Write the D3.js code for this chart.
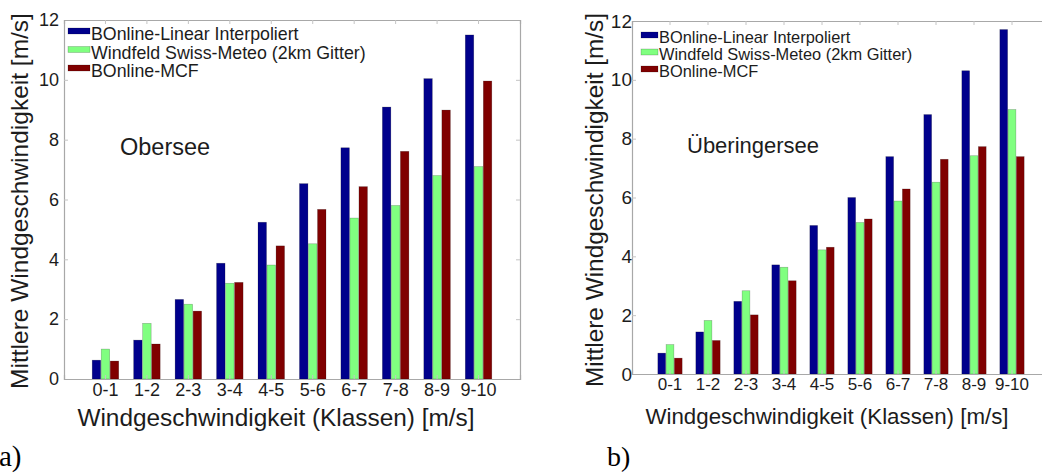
<!DOCTYPE html>
<html>
<head>
<meta charset="utf-8">
<script src="https://cdn.jsdelivr.net/npm/d3@7/dist/d3.min.js"></script>
<style>
  body { margin: 0; background: #fff; }
  svg { display: block; }
  text { font-family: "Liberation Sans", Arial, sans-serif; fill: #1c1c1c; }
  text.tag { font-family: "Liberation Serif", "Times New Roman", serif; fill: #000; }
</style>
</head>
<body>
<svg id="chart" width="1042" height="474"></svg>
<script>
// Wind speed classes [m/s]
const categories = ["0-1", "1-2", "2-3", "3-4", "4-5", "5-6", "6-7", "7-8", "8-9", "9-10"];
const seriesNames = ["BOnline-Linear Interpoliert", "Windfeld Swiss-Meteo (2km Gitter)", "BOnline-MCF"];
const seriesColors = ["#00008c", "#80ff80", "#800000"];
const yTicks = [0, 2, 4, 6, 8, 10, 12];

// Obersee: mean wind speed per class [m/s]
const oberseeLinear = [0.63, 1.30, 2.66, 3.87, 5.24, 6.53, 7.73, 9.09, 10.04, 11.50];
const oberseeSwiss  = [1.00, 1.86, 2.50, 3.20, 3.81, 4.52, 5.38, 5.80, 6.80, 7.10];
const oberseeMcf    = [0.60, 1.17, 2.27, 3.23, 4.45, 5.67, 6.43, 7.61, 8.99, 9.96];

// Überingersee: mean wind speed per class [m/s]
const ueberLinear = [0.71, 1.43, 2.47, 3.71, 5.05, 6.00, 7.39, 8.82, 10.31, 11.71];
const ueberSwiss  = [1.00, 1.82, 2.83, 3.63, 4.22, 5.15, 5.88, 6.52, 7.42, 8.99];
const ueberMcf    = [0.54, 1.14, 2.01, 3.17, 4.31, 5.27, 6.29, 7.30, 7.73, 7.39];

const yLabel = "Mittlere Windgeschwindigkeit [m/s]";
const xLabel = "Windgeschwindigkeit (Klassen) [m/s]";

const svg = d3.select("#chart");
svg.append("rect").attr("width", 1042).attr("height", 474).attr("fill", "#fff");

function drawPanel(series, lay) {
  const g = svg.append("g");
  const x = d3.scaleBand().domain(categories)
    .range([lay.left, lay.right]).paddingInner(0).paddingOuter(0.5);
  const step = x.step();
  const xs = d3.scaleBand().domain(seriesNames)
    .range([-0.32 * step, 0.32 * step]).paddingInner(0.06);
  const y = d3.scaleLinear().domain([0, 12]).range([lay.bottom, lay.top]);

  // bars
  series.forEach((vals, si) => {
    g.append("g").selectAll("rect").data(vals).join("rect")
      .attr("x", (d, i) => x(categories[i]) + x.bandwidth() / 2 + xs(seriesNames[si]))
      .attr("width", xs.bandwidth())
      .attr("y", d => y(d))
      .attr("height", d => y(0) - y(d))
      .attr("fill", seriesColors[si])
      .attr("stroke", "rgba(0,0,0,0.3)")
      .attr("stroke-width", 0.6);
  });

  const boxColor = "#a8a8a8";
  const tickLen = 4;
  // box axes with inward ticks
  const left = g.append("g").attr("transform", `translate(${lay.left},0)`)
    .call(d3.axisLeft(y).tickValues(yTicks).tickSize(-tickLen).tickPadding(lay.yTickPad).tickFormat(d3.format("d")));
  const right = g.append("g").attr("transform", `translate(${lay.right},0)`)
    .call(d3.axisRight(y).tickValues(yTicks).tickSize(-tickLen).tickFormat(""));
  const bottom = g.append("g").attr("transform", `translate(0,${lay.bottom})`)
    .call(d3.axisBottom(x).tickSize(-tickLen).tickPadding(lay.xTickPad));
  const top = g.append("g").attr("transform", `translate(0,${lay.top})`)
    .call(d3.axisTop(x).tickSize(-tickLen).tickFormat(""));
  [left, right, bottom, top].forEach(ax => {
    ax.select(".domain").attr("stroke", boxColor).attr("stroke-width", 1.2);
    ax.selectAll(".tick line").attr("stroke", "#c4c4c4");
  });
  left.selectAll(".tick text").attr("font-size", lay.yTickFont).attr("fill", "#1c1c1c");
  bottom.selectAll(".tick text").attr("font-size", lay.xTickFont).attr("fill", "#1c1c1c");

  // axis titles
  g.append("text")
    .attr("transform", `translate(${lay.yLabelX},${lay.yLabelY}) rotate(-90)`)
    .attr("text-anchor", "middle").attr("font-size", lay.yLabelFont).text(yLabel);
  g.append("text")
    .attr("x", lay.xLabelX).attr("y", lay.xLabelY)
    .attr("text-anchor", "middle").attr("font-size", lay.xLabelFont).text(xLabel);

  // legend
  const lg = g.append("g");
  seriesNames.forEach((name, i) => {
    const by = lay.legY + i * lay.legStep;
    lg.append("rect").attr("x", lay.legX).attr("y", by - lay.legSwOff)
      .attr("width", lay.legSwW).attr("height", lay.legSwH)
      .attr("fill", seriesColors[i]).attr("stroke", "rgba(0,0,0,0.3)").attr("stroke-width", 0.6);
    lg.append("text").attr("x", lay.legX + lay.legSwW + 1).attr("y", by)
      .attr("font-size", lay.legFont).text(name);
  });

  // lake name
  g.append("text").attr("x", lay.noteX).attr("y", lay.noteY)
    .attr("font-size", lay.noteFont).text(lay.note);

  // panel letter
  g.append("text").attr("class", "tag").attr("x", lay.tagX).attr("y", lay.tagY)
    .attr("font-size", lay.tagFont).text(lay.tag);
}

drawPanel([oberseeLinear, oberseeSwiss, oberseeMcf], {
  left: 64, right: 520, top: 20, bottom: 379,
  yTickFont: 18, yTickPad: 5, xTickFont: 18, xTickPad: 4,
  yLabelX: 28, yLabelY: 201, yLabelFont: 24.5,
  xLabelX: 276, xLabelY: 426, xLabelFont: 24.4,
  legX: 68, legY: 40, legStep: 18.5, legSwW: 22, legSwH: 6, legSwOff: 12, legFont: 17.8,
  note: "Obersee", noteX: 120, noteY: 155, noteFont: 23.5,
  tag: "a)", tagX: -1, tagY: 466, tagFont: 29
});

drawPanel([ueberLinear, ueberSwiss, ueberMcf], {
  left: 632, right: 1050, top: 21, bottom: 374,
  yTickFont: 19, yTickPad: 0, xTickFont: 17, xTickPad: 4,
  yLabelX: 603, yLabelY: 200, yLabelFont: 24.4,
  xLabelX: 827, xLabelY: 424, xLabelFont: 22.3,
  legX: 641, legY: 43, legStep: 17, legSwW: 17, legSwH: 6, legSwOff: 11, legFont: 16.4,
  note: "Überingersee", noteX: 687, noteY: 153, noteFont: 22,
  tag: "b)", tagX: 607, tagY: 466, tagFont: 28
});
</script>
</body>
</html>
